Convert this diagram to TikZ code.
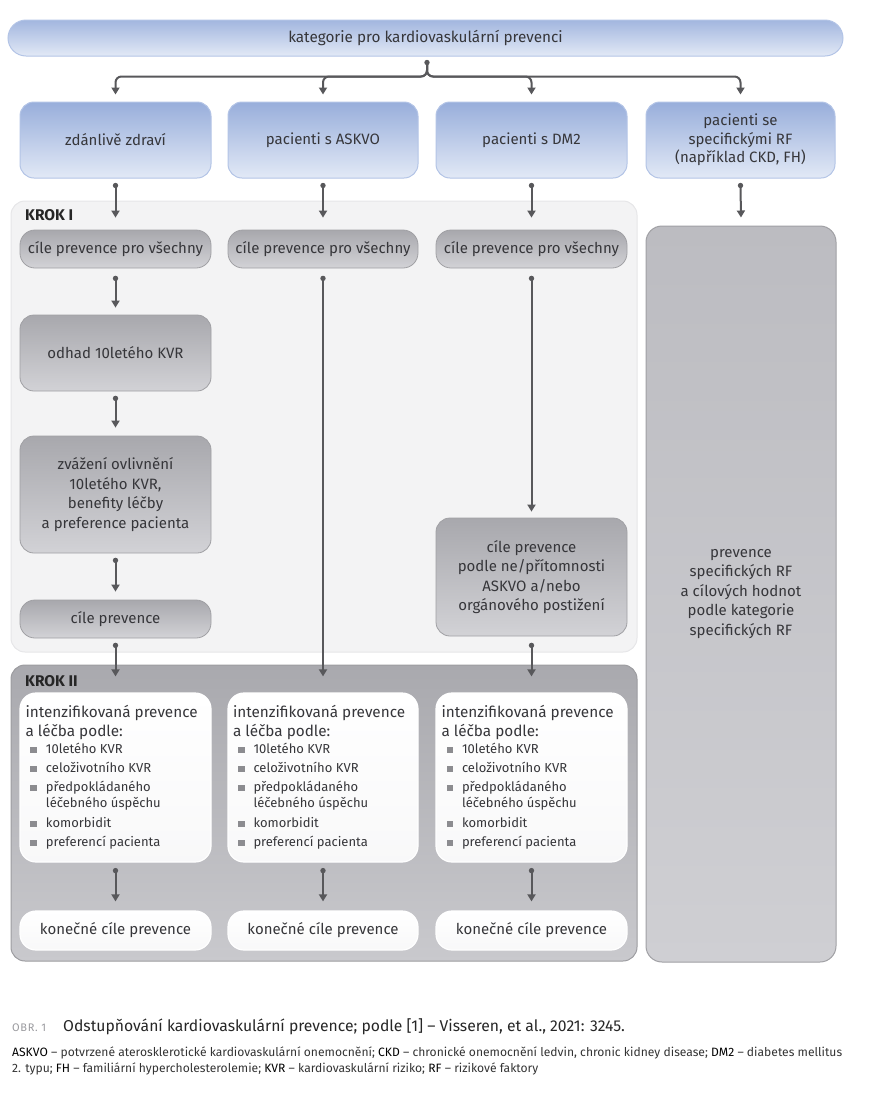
\documentclass[tikz,border=0pt]{standalone}
\usepackage{fontspec}
\setmainfont{Fira Sans}
\newfontfamily\obrfont{Fira Sans}[LetterSpace=6]
\usetikzlibrary{arrows.meta,calc}
\definecolor{txt}{HTML}{36363A}
\definecolor{arr}{HTML}{58585B}
\definecolor{blueT}{HTML}{98AEDB}
\definecolor{blueB}{HTML}{E2E9F6}
\definecolor{blueD}{HTML}{B3C4E6}
\definecolor{grayT}{HTML}{A8A8AD}
\definecolor{grayB}{HTML}{D2D2D6}
\definecolor{grayD}{HTML}{A0A0A4}
\definecolor{panelA}{HTML}{F3F3F4}
\definecolor{panelAD}{HTML}{E6E6E8}
\definecolor{panelBT}{HTML}{A9A9AE}
\definecolor{panelBB}{HTML}{C9C9CD}
\definecolor{panelBD}{HTML}{9C9CA0}
\definecolor{rfT}{HTML}{BCBCC1}
\definecolor{rfB}{HTML}{CFCFD3}
\definecolor{bulgray}{HTML}{8C8C90}
\definecolor{capgray}{HTML}{9A9A9E}
\newcommand{\bul}{\textcolor{bulgray}{\rule[0.5pt]{6.5pt}{6.5pt}}\hspace{9pt}}
\newcommand{\bulind}{\hspace{15.5pt}}
\newcommand{\ab}[1]{\textcolor{black}{#1}}
\newcommand{\flowar}[2]{\draw[flow] #1 -- #2; \fill[arr] #1 circle (2.7pt);}
\begin{document}
\begin{tikzpicture}[x=1pt,y=-1pt,
  every node/.style={text=txt},
  bluebox/.style={draw=blueD,line width=1pt,top color=blueT,bottom color=blueB,rounded corners=14pt,
    minimum width=#1,minimum height=76pt,align=center,font=\fontsize{15}{18.5}\selectfont,inner sep=0pt},
  graybox/.style={draw=grayD,line width=0.8pt,top color=grayT,bottom color=grayB,rounded corners=14pt,
    minimum width=191pt,align=center,font=\fontsize{15}{19.5}\selectfont,inner sep=0pt},
  pill/.style={graybox,rounded corners=15pt,minimum height=38pt},
  whitebox/.style={draw=white,line width=1.2pt,top color=white,bottom color=white!85!grayB,rounded corners=16pt,
    minimum width=191pt,inner sep=0pt},
  flow/.style={draw=arr,line width=2pt,-{Triangle[length=7pt,width=8pt]}},
  steplabel/.style={font=\bfseries\fontsize{15.5}{17}\selectfont,text=black!85,anchor=west,inner sep=0pt},
]
\useasboundingbox (0,0) rectangle (874,1093);

% top
\node[draw=blueD,line width=1pt,top color=blueT!90,bottom color=blueB,rounded corners=18pt,
  minimum width=835pt,minimum height=36pt,inner sep=0pt,font=\fontsize{15.3}{17}\selectfont] (top) at (425.5,38) {kategorie pro kardiovaskulární prevenci};

% categories
\node[bluebox=191pt] (b1) at (115.5,140) {zdánlivě zdraví};
\node[bluebox=190pt] (b2) at (323,140) {pacienti s ASKVO};
\node[bluebox=191pt] (b3) at (531.5,140) {pacienti s DM2};
\node[bluebox=189pt] (b4) at (740.5,140) {pacienti se\\specifickými RF\\(například CKD, FH)};

% panels
\node[draw=panelAD,line width=1pt,fill=panelA,rounded corners=14pt,minimum width=626pt,minimum height=451pt,inner sep=0pt] (k1) at (324,426.5) {};
\node[draw=panelBD,line width=1pt,top color=panelBT,bottom color=panelBB,rounded corners=14pt,minimum width=626pt,minimum height=296pt,inner sep=0pt] (k2) at (324,813) {};
\node[steplabel] (k1l) at (25,215) {KROK I};
\node[steplabel] (k2l) at (25,681) {KROK II};

% RF column
\node[draw=grayD,line width=1pt,top color=rfT,bottom color=rfB,rounded corners=16pt,minimum width=190pt,minimum height=736pt,inner sep=0pt,
  align=center,font=\fontsize{15}{19.5}\selectfont] (rf) at (741,594) {prevence\\specifických RF\\a cílových hodnot\\podle kategorie\\specifických RF};

% KROK I boxes
\node[pill] (c1) at (115.5,249) {cíle prevence pro všechny};
\node[pill,minimum width=190pt] (c2) at (323,249) {cíle prevence pro všechny};
\node[pill] (c3) at (531.5,249) {cíle prevence pro všechny};
\node[graybox,minimum height=76pt] (od) at (115.5,353) {odhad 10letého KVR};
\node[graybox,minimum height=117pt] (zv) at (115.5,494.5) {zvážení ovlivnění\\10letého KVR,\\benefity léčby\\a preference pacienta};
\node[pill] (cp) at (115.5,619) {cíle prevence};
\node[graybox,minimum height=118pt] (dm) at (531.5,577) {cíle prevence\\podle ne/přítomnosti\\ASKVO a/nebo\\orgánového postižení};

% KROK II boxes
\newcommand{\intz}{%
  \begin{minipage}{180pt}\raggedright
  \fontsize{15.3}{19}\selectfont intenzifikovaná prevence\\a léčba podle:\par
  \vspace{1pt}
  \fontsize{13}{16}\selectfont
  \hspace*{5pt}\bul 10letého KVR\\[3pt]
  \hspace*{5pt}\bul celoživotního KVR\\[3pt]
  \hspace*{5pt}\bul předpokládaného\\
  \hspace*{5pt}\bulind léčebného úspěchu\\[4pt]
  \hspace*{5pt}\bul komorbidit\\[3pt]
  \hspace*{5pt}\bul preferencí pacienta
  \end{minipage}}
\node[whitebox,minimum height=169pt] (i1) at (115.5,777.5) {\intz};
\node[whitebox,minimum height=169pt,minimum width=190pt] (i2) at (323,777.5) {\intz};
\node[whitebox,minimum height=169pt] (i3) at (531.5,777.5) {\intz};
\node[whitebox,minimum height=39pt,font=\fontsize{15}{19}\selectfont] (f1) at (115.5,930.5) {konečné cíle prevence};
\node[whitebox,minimum height=39pt,minimum width=190pt,font=\fontsize{15}{19}\selectfont] (f2) at (323,930.5) {konečné cíle prevence};
\node[whitebox,minimum height=39pt,font=\fontsize{15}{19}\selectfont] (f3) at (531.5,930.5) {konečné cíle prevence};

% branching from top
\coordinate (tp) at ($(top.south)+(1.5,6)$);
\foreach \b in {b1,b2,b3,b4}{
  \draw[draw=arr,line width=2pt,rounded corners=6pt,-{Triangle[length=7pt,width=8pt]}]
    (tp) |- ($(\b.north)+(0,-25)$) -- ($(\b.north)+(0,-7)$);
}
\fill[arr] (tp) circle (2.7pt);

% flows
\flowar{($(b1.south)+(0,7)$)}{($(c1.north)+(0,-12)$)}
\flowar{($(b2.south)+(0,7)$)}{($(c2.north)+(0,-12)$)}
\flowar{($(b3.south)+(0,7)$)}{($(c3.north)+(0,-12)$)}
\flowar{($(b4.south)+(0,7)$)}{($(rf.north)+(0,-8)$)}
\flowar{($(c1.south)+(0,10)$)}{($(od.north)+(0,-7)$)}
\flowar{($(od.south)+(0,7)$)}{($(zv.north)+(0,-8)$)}
\flowar{($(zv.south)+(0,7)$)}{($(cp.north)+(0,-8)$)}
\flowar{($(cp.south)+(0,7)$)}{($(i1.north)+(0,-16)$)}
\flowar{($(c2.south)+(0,10)$)}{($(i2.north)+(0,-16)$)}
\flowar{($(c3.south)+(0,10)$)}{($(dm.north)+(0,-6)$)}
\flowar{($(dm.south)+(0,9)$)}{($(i3.north)+(0,-16)$)}
\flowar{($(i1.south)+(0,8)$)}{($(f1.north)+(0,-9)$)}
\flowar{($(i2.south)+(0,8)$)}{($(f2.north)+(0,-9)$)}
\flowar{($(i3.south)+(0,8)$)}{($(f3.north)+(0,-9)$)}

% caption
\node[anchor=base west,inner sep=0pt,text=capgray,font=\obrfont\fontsize{11}{12}\selectfont] (obr) at (12,1031) {OBR. 1};
\node[anchor=base west,inner sep=0pt,font=\fontsize{15.7}{18}\selectfont,text=black!85] (cap) at (63,1031)
  {Odstupňování kardiovaskulární prevence; podle [1] – Visseren, et al., 2021: 3245.};
\node[anchor=base west,inner sep=0pt,font=\fontsize{12.1}{16}\selectfont,text=black!80] (leg1) at (12,1056)
  {\ab{ASKVO} – potvrzené aterosklerotické kardiovaskulární onemocnění; \ab{CKD} – chronické onemocnění ledvin, chronic kidney disease; \ab{DM2} – diabetes mellitus};
\node[anchor=base west,inner sep=0pt,font=\fontsize{12.1}{16}\selectfont,text=black!80] (leg2) at (12,1072)
  {2. typu; \ab{FH} – familiární hypercholesterolemie; \ab{KVR} – kardiovaskulární riziko; \ab{RF} – rizikové faktory};
\end{tikzpicture}
\end{document}
